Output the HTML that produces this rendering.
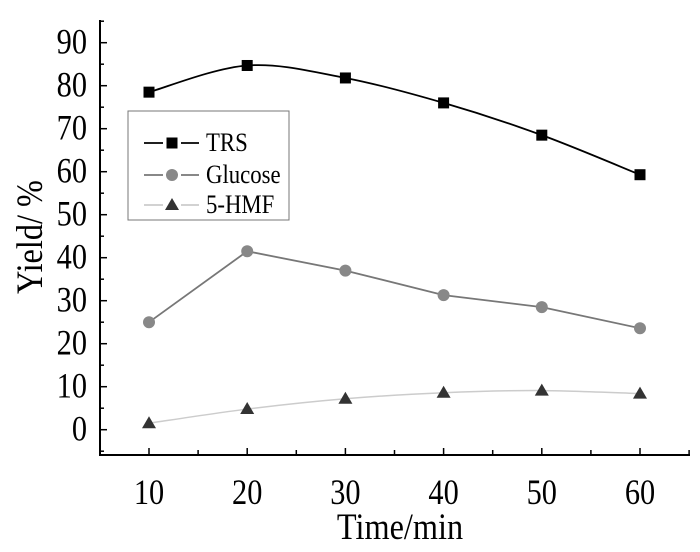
<!DOCTYPE html>
<html><head><meta charset="utf-8"><style>
body{margin:0;background:#fff}
svg{display:block;font-family:"Liberation Serif",serif}
</style></head><body>
<svg id="chart" width="700" height="552" viewBox="0 0 700 552"></svg>
<script>
const categories=[10,20,30,40,50,60];
const trsValues=[78.5,84.7,81.8,76.0,68.5,59.3];
const glucoseValues=[25.0,41.5,37.0,31.3,28.5,23.6];
const hmfValues=[1.5,4.8,7.2,8.6,9.1,8.4];
const yTicks=[0,10,20,30,40,50,60,70,80,90];
const xTicks=[10,20,30,40,50,60];
const NS="http://www.w3.org/2000/svg";
const svg=document.getElementById('chart');
const X=v=>149+(v-10)*9.82;
const Y=v=>429.7-v*4.3;
function mk(t,a,p){const e=document.createElementNS(NS,t);for(const k in a)e.setAttribute(k,a[k]);(p||svg).appendChild(e);return e;}
const ax=mk('g',{});


mk('line',{x1:100,y1:20,x2:100,y2:455,stroke:'#000','stroke-width':2},ax);
mk('line',{x1:99,y1:455,x2:690,y2:455,stroke:'#000','stroke-width':2},ax);
for(let v=-5;v<=95;v+=5){const y=Y(v);if(y>455||y<20)continue;mk('line',{x1:100,y1:y,x2:v%10===0?107:104,y2:y,stroke:'#000','stroke-width':1.5},ax);}
yTicks.forEach(v=>{const t=mk('text',{x:0,y:0,'text-anchor':'end','font-size':33,transform:`translate(87,${Y(v)+11}) scale(0.92,1.08)`},ax);t.textContent=v;

});
for(let v=5;v<=65;v+=5){const x=X(v);if(x>691)continue;mk('line',{x1:x,y1:455,x2:x,y2:v%10===0?448:450,stroke:'#000','stroke-width':1.5},ax);}
xTicks.forEach(v=>{const t=mk('text',{x:0,y:0,'text-anchor':'middle','font-size':33,transform:`translate(${X(v)},504) scale(0.92,1.08)`},ax);t.textContent=v;

});
const xt=mk('text',{x:0,y:0,'text-anchor':'middle','font-size':34,transform:'translate(400,539) scale(0.95,1.08)'});xt.textContent='Time/min';


const yt=mk('text',{x:0,y:0,'text-anchor':'middle','font-size':34,transform:'translate(42,237) rotate(-90) scale(0.95,1.1)'});yt.textContent='Yield/ %';


function smooth(pts){let d=`M${pts[0][0]},${pts[0][1]}`;for(let i=0;i<pts.length-1;i++){const p0=pts[Math.max(i-1,0)],p1=pts[i],p2=pts[i+1],p3=pts[Math.min(i+2,pts.length-1)];
d+=` C${p1[0]+(p2[0]-p0[0])/6},${p1[1]+(p2[1]-p0[1])/6} ${p2[0]-(p3[0]-p1[0])/6},${p2[1]-(p3[1]-p1[1])/6} ${p2[0]},${p2[1]}`;}return d;}
function series(vals,name,lineCol,markCol,shape,curve){
const g=mk('g',{});


const pts=vals.map((v,i)=>[X(categories[i]),Y(v)]);
const d=curve?smooth(pts):'M'+pts.map(p=>p.join(',')).join(' L');
mk('path',{d:d,fill:'none',stroke:lineCol,'stroke-width':curve&&name==='hmf'?1.5:1.8},g);
pts.forEach(p=>{let m;
if(shape==='sq')m=mk('rect',{x:p[0]-5.5,y:p[1]-5.5,width:11,height:11,fill:markCol},g);
else if(shape==='ci')m=mk('circle',{cx:p[0],cy:p[1],r:6,fill:markCol},g);
else m=mk('path',{d:`M${p[0]},${p[1]-7} L${p[0]+7},${p[1]+5} L${p[0]-7},${p[1]+5}Z`,fill:markCol},g);

});}
series(trsValues,'trs','#000','#000','sq',true);
series(glucoseValues,'glucose','#777','#888','ci',false);
series(hmfValues,'hmf','#ccc','#333','tri',true);
const lg=mk('g',{});


mk('rect',{x:128,y:111,width:161,height:109,fill:'#fff',stroke:'#777','stroke-width':1},lg);
const items=[['TRS','#000','#000','sq',143],['Glucose','#777','#888','ci',175],['5-HMF','#ccc','#333','tri',205]];
items.forEach(it=>{const e=mk('g',{},lg);


const y=it[4];mk('line',{x1:144,y1:y,x2:199,y2:y,stroke:it[1],'stroke-width':1.8},e);
mk('rect',{x:163,y:y-7,width:18,height:14,fill:'#fff'},e);
if(it[3]==='sq')mk('rect',{x:166.5,y:y-5.5,width:11,height:11,fill:it[2]},e);
else if(it[3]==='ci')mk('circle',{cx:172,cy:y,r:6,fill:it[2]},e);
else mk('path',{d:`M172,${y-7} L179,${y+5} L165,${y+5}Z`,fill:it[2]},e);
const t=mk('text',{x:0,y:0,'font-size':24,transform:`translate(206,${y+8}) scale(0.95,1.08)`},e);t.textContent=it[0];});
</script>
</body></html>
